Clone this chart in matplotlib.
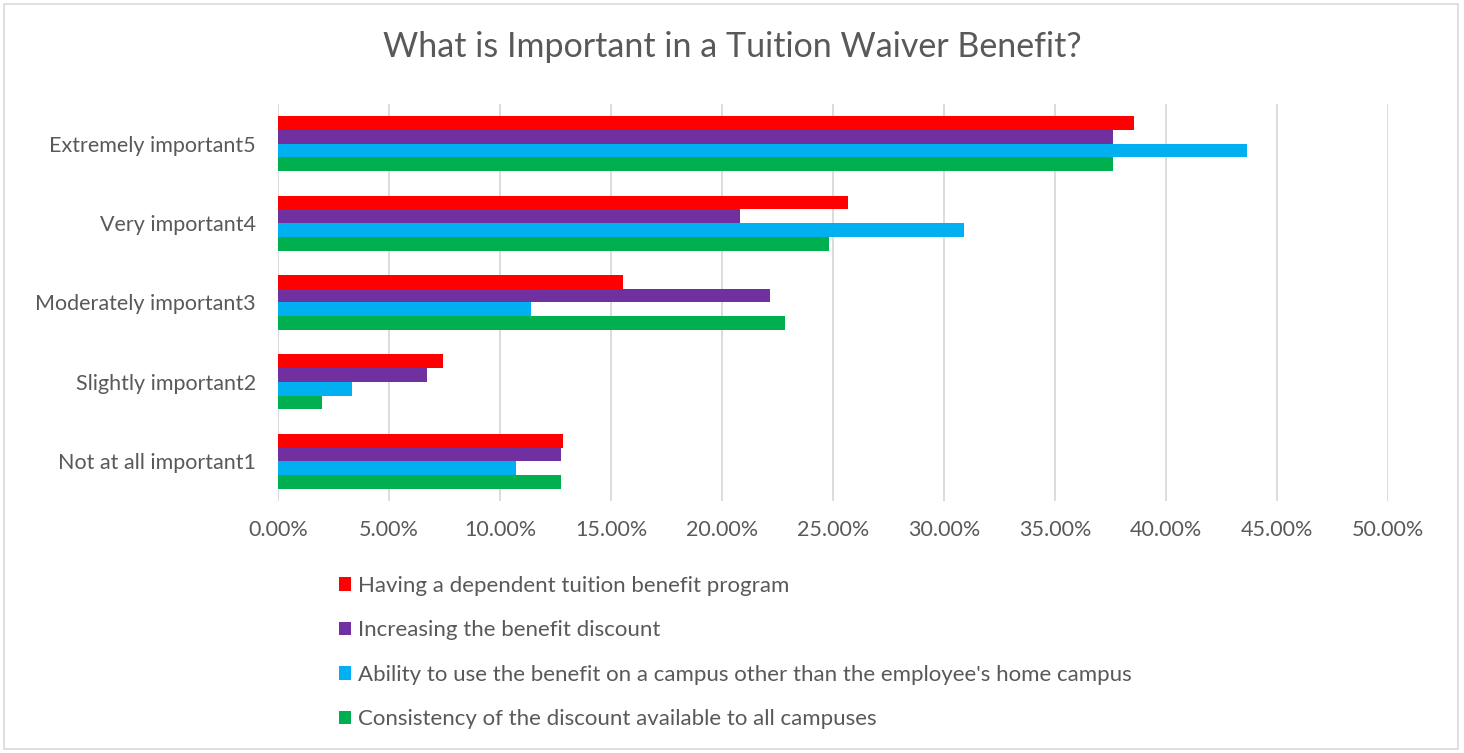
import matplotlib
matplotlib.use("Agg")
import matplotlib.pyplot as plt
from matplotlib.patches import Patch, Rectangle
from matplotlib.ticker import FuncFormatter, MultipleLocator
import numpy as np

plt.rcParams['font.family'] = ['Lato', 'DejaVu Sans']

categories = ["Not at all important1", "Slightly important2", "Moderately important3",
              "Very important4", "Extremely important5"]
series_names = ["Having a dependent tuition benefit program",
                "Increasing the benefit discount",
                "Ability to use the benefit on a campus other than the employee's home campus",
                "Consistency of the discount available to all campuses"]
dependent_program = [12.84, 7.43, 15.55, 25.69, 38.54]
increasing_discount = [12.76, 6.70, 22.16, 20.80, 37.60]
other_campus = [10.72, 3.35, 11.41, 30.88, 43.66]
consistency = [12.76, 2.00, 22.82, 24.83, 37.60]
colors = ["#FF0000", "#7030A0", "#00B0F0", "#00B050"]

fig = plt.figure(figsize=(14.64, 7.53), dpi=100)
ax = fig.add_axes([278/1464, 1-501/753, 1110/1464, 397/753])

series = [dependent_program, increasing_discount, other_campus, consistency]
h = 0.173
offsets = [1.5*h, 0.5*h, -0.5*h, -1.5*h]
y = np.arange(len(categories))
for vals, off, c in zip(series, offsets, colors):
    ax.barh(y + off, vals, height=h, color=c, zorder=3)

ax.set_xlim(0, 50)
ax.set_ylim(-0.5, 4.5)
ax.xaxis.set_major_locator(MultipleLocator(5))
ax.xaxis.set_major_formatter(FuncFormatter(lambda v, p: f"{v:.2f}%"))
ax.set_yticks(y)
ax.set_yticklabels(categories)
ax.grid(axis='x', color='#D9D9D9', linewidth=1.3, zorder=0)
for s in ax.spines.values():
    s.set_visible(False)
ax.tick_params(axis='both', length=0, labelsize=15.5, labelcolor='#595959')
ax.tick_params(axis='x', pad=14)
ax.tick_params(axis='y', pad=16)

fig.text(0.5, 1-47/753, "What is Important in a Tuition Waiver Benefit?",
         ha='center', va='center', fontsize=24.5, color='#595959')

handles = [Patch(facecolor=c, edgecolor='none') for c in colors]
leg = fig.legend(handles, series_names, loc='upper left',
                 bbox_to_anchor=(339/1464, 1-576/753), frameon=False,
                 fontsize=16, labelcolor='#595959', handlelength=0.55,
                 handleheight=0.55, handletextpad=0.3, labelspacing=1.1,
                 borderaxespad=0, borderpad=0)

fig.patches.append(Rectangle((4/1464, 4/753), 1454/1464, 745/753, transform=fig.transFigure,
                             fill=False, edgecolor='#D9D9D9', linewidth=1.2))

fig.savefig("out.png", dpi=100)
